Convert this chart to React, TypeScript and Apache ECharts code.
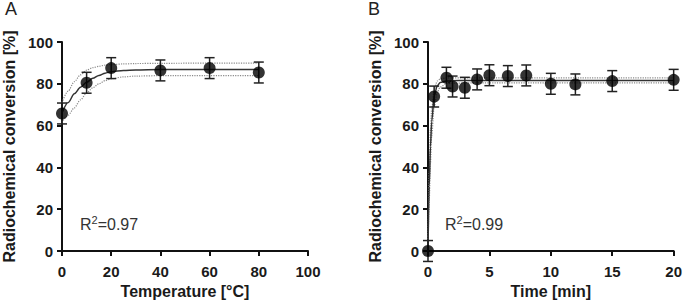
import React, { useEffect, useRef } from "react";
import * as echarts from "echarts";

// Panel A: temperature
const tempX = [0, 10, 20, 40, 60, 80];
const tempY = [65.8, 80.5, 87.5, 86.4, 87.5, 85.4];
const tempErr = [5, 5, 5, 5, 5, 5];
const tempFitX = [0, 2.5, 5, 7.5, 10, 12.5, 15, 17.5, 20, 25, 30, 40, 60, 80];
const tempFit = [66, 71, 75.2, 78.3, 80.7, 82.6, 84, 85.1, 85.8, 86.4, 86.6, 86.8, 86.8, 86.8];
const tempUpper = [71, 76.5, 81, 84.3, 86.5, 87.7, 88.4, 88.9, 89.2, 89.5, 89.7, 89.8, 89.9, 89.9];
const tempLower = [61.5, 65, 68.5, 72.3, 75.6, 78.1, 80, 81.5, 82.4, 83.3, 83.7, 83.9, 83.9, 83.9];

// Panel B: time
const timeX = [0, 0.5, 1.5, 2, 3, 4, 5, 6.5, 8, 10, 12, 15, 20];
const timeY = [0, 73.9, 82.9, 78.7, 78.1, 82.1, 84.1, 83.7, 84, 80, 79.7, 81.3, 81.9];
const timeErr = [5, 5, 5, 5, 5, 5, 5, 5, 5, 5, 5, 5, 5];
const timeFitX = [0, 0.1, 0.2, 0.3, 0.5, 0.75, 1, 1.5, 2, 3, 20];
const timeFit = [0, 31, 50, 62, 74, 79, 80.6, 81.3, 81.5, 81.6, 81.6];
const timeUpper = [0, 38, 58, 68, 77, 81.3, 82.4, 82.8, 82.8, 82.8, 82.8];
const timeLower = [0, 24, 42, 55, 69, 76, 78.5, 80, 80.3, 80.4, 80.4];

const r2A = "0.97";
const r2B = "0.99";

const pairs = (xs: number[], ys: number[]) => xs.map((x, i) => [x, ys[i]]);

const errData = (xs: number[], ys: number[], es: number[]) =>
  xs.map((x, i) => [x, ys[i] - es[i], ys[i] + es[i]]);

const errRender = (params: any, api: any) => {
  const x = api.value(0);
  const lo = api.coord([x, api.value(1)]);
  const hi = api.coord([x, api.value(2)]);
  const w = 5;
  const style = { stroke: "#222", lineWidth: 1.5 };
  return {
    type: "group",
    children: [
      { type: "line", shape: { x1: lo[0], y1: lo[1], x2: hi[0], y2: hi[1] }, style },
      { type: "line", shape: { x1: lo[0] - w, y1: lo[1], x2: lo[0] + w, y2: lo[1] }, style },
      { type: "line", shape: { x1: hi[0] - w, y1: hi[1], x2: hi[0] + w, y2: hi[1] }, style },
    ],
  };
};

const FONT = "Liberation Sans, Arial, sans-serif";

export default function App() {
  const ref = useRef<HTMLDivElement>(null);
  useEffect(() => {
    if (!ref.current) return;
    const chart = echarts.init(ref.current, null, { renderer: "svg" });
    const axisLine = { show: true, lineStyle: { color: "#111", width: 2 } };
    const axisTick = { show: true, length: 5, lineStyle: { color: "#111", width: 2 } };
    const axisLabel = (margin: number) => ({
      color: "#1a1a1a",
      fontSize: 15,
      fontWeight: "bold" as const,
      fontFamily: FONT,
      margin,
    });
    const nameStyle = { color: "#1a1a1a", fontSize: 16, fontWeight: "bold" as const, fontFamily: FONT };
    const yAxisBase = (gi: number) => ({
      type: "value",
      gridIndex: gi,
      min: 0,
      max: 100,
      interval: 20,
      name: "Radiochemical conversion [%]",
      nameLocation: "middle",
      nameGap: 45,
      nameTextStyle: nameStyle,
      axisLine,
      axisTick,
      axisLabel: axisLabel(9),
      splitLine: { show: false },
    });
    const fitLine = (xi: number, xs: number[], ys: number[], dotted: boolean) => ({
      type: "line",
      xAxisIndex: xi,
      yAxisIndex: xi,
      data: pairs(xs, ys),
      showSymbol: false,
      smooth: 0.3,
      smoothMonotone: "x",
      lineStyle: dotted
        ? { color: "#8a8a8a", width: 1.2, type: "dotted" }
        : { color: "#333", width: 1.5 },
      z: dotted ? 2 : 3,
    });
    const rich = {
      r: { fontSize: 16, fontFamily: FONT, fill: "#333", lineHeight: 20 },
      s: { fontSize: 11, fontFamily: FONT, fill: "#333", lineHeight: 20, padding: [0, 0, 9, 0] },
    };
    const option: any = {
      animation: false,
      grid: [
        { left: 62, right: 377, top: 42, bottom: 57 },
        { left: 428, right: 9, top: 42, bottom: 57 },
      ],
      xAxis: [
        {
          type: "value",
          gridIndex: 0,
          min: 0,
          max: 100,
          interval: 20,
          name: "Temperature [°C]",
          nameLocation: "middle",
          nameGap: 32,
          nameTextStyle: nameStyle,
          axisLine,
          axisTick,
          axisLabel: axisLabel(13),
          splitLine: { show: false },
        },
        {
          type: "value",
          gridIndex: 1,
          min: 0,
          max: 20,
          interval: 5,
          name: "Time [min]",
          nameLocation: "middle",
          nameGap: 32,
          nameTextStyle: nameStyle,
          axisLine,
          axisTick,
          axisLabel: axisLabel(13),
          splitLine: { show: false },
        },
      ],
      yAxis: [yAxisBase(0), yAxisBase(1)],
      graphic: [
        {
          type: "text",
          left: 5,
          top: 0,
          style: { text: "A", fontSize: 18, fontFamily: FONT, fill: "#222" },
        },
        {
          type: "text",
          left: 368,
          top: 0,
          style: { text: "B", fontSize: 18, fontFamily: FONT, fill: "#222" },
        },
        {
          type: "text",
          left: 80,
          top: 214,
          style: { text: "{r|R}{s|2}{r|=" + r2A + "}", rich },
        },
        {
          type: "text",
          left: 445,
          top: 214,
          style: { text: "{r|R}{s|2}{r|=" + r2B + "}", rich },
        },
      ],
      series: [
        fitLine(0, tempFitX, tempUpper, true),
        fitLine(0, tempFitX, tempLower, true),
        fitLine(0, tempFitX, tempFit, false),
        {
          type: "custom",
          xAxisIndex: 0,
          yAxisIndex: 0,
          renderItem: errRender,
          data: errData(tempX, tempY, tempErr),
          clip: false,
          z: 4,
        },
        {
          type: "scatter",
          xAxisIndex: 0,
          yAxisIndex: 0,
          data: pairs(tempX, tempY),
          symbolSize: 12,
          itemStyle: { color: "#000" },
          clip: false,
          z: 5,
        },
        fitLine(1, timeFitX, timeUpper, true),
        fitLine(1, timeFitX, timeLower, true),
        fitLine(1, timeFitX, timeFit, false),
        {
          type: "custom",
          xAxisIndex: 1,
          yAxisIndex: 1,
          renderItem: errRender,
          data: errData(timeX, timeY, timeErr),
          clip: false,
          z: 4,
        },
        {
          type: "scatter",
          xAxisIndex: 1,
          yAxisIndex: 1,
          data: pairs(timeX, timeY),
          symbolSize: 12,
          itemStyle: { color: "#000" },
          clip: false,
          z: 5,
        },
      ],
    };
    chart.setOption(option);
    return () => chart.dispose();
  }, []);
  return <div ref={ref} style={{ width: 685, height: 308, position: "absolute", left: 0, top: 0 }} />;
}
